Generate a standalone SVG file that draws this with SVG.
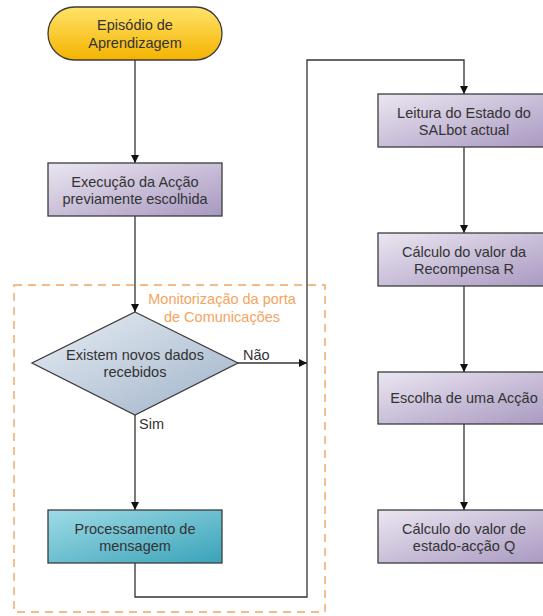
<svg xmlns="http://www.w3.org/2000/svg" width="543" height="616" viewBox="0 0 543 616">
<defs>
<linearGradient id="gPurple" x1="0" y1="0" x2="1" y2="1">
<stop offset="0" stop-color="#ebe6f1"/><stop offset="1" stop-color="#a898c0"/>
</linearGradient>
<linearGradient id="gYellow" x1="0" y1="0" x2="0" y2="1">
<stop offset="0" stop-color="#ffe36a"/><stop offset="1" stop-color="#f5b300"/>
</linearGradient>
<linearGradient id="gBlue" x1="0" y1="0" x2="1" y2="1">
<stop offset="0" stop-color="#e8eef5"/><stop offset="1" stop-color="#9fb2c8"/>
</linearGradient>
<linearGradient id="gTeal" x1="0" y1="0" x2="1" y2="1">
<stop offset="0" stop-color="#9fdbe6"/><stop offset="1" stop-color="#3aa3b9"/>
</linearGradient>
<marker id="arr" viewBox="0 0 10 10" refX="10" refY="5" markerWidth="8" markerHeight="8" orient="auto" markerUnits="userSpaceOnUse">
<path d="M0,0 L10,5 L0,10 z" fill="#111"/>
</marker>
</defs>
<style>
.box{stroke:#3c3c3c;stroke-width:1.3}
.t{font-family:"Liberation Sans",Arial,sans-serif;font-size:14.5px;fill:#333;text-anchor:middle}
.lbl{font-family:"Liberation Sans",Arial,sans-serif;font-size:14.5px;fill:#333}
.c{fill:none;stroke:#333;stroke-width:1.3}
.o{font-family:"Liberation Sans",Arial,sans-serif;font-size:14.5px;fill:#f4a460;text-anchor:middle}
</style>
<rect width="543" height="616" fill="#fff"/>
<g id="group-monitor">
<rect x="14" y="285" width="311" height="327" fill="none" stroke="#f4a460" stroke-width="1.4" stroke-dasharray="8,6"/>
<text class="o" x="222" y="304">Monitorização da porta</text>
<text class="o" x="222" y="322">de Comunicações</text>
</g>
<g id="connectors">
<line class="c" x1="135" y1="60" x2="135" y2="163" marker-end="url(#arr)"/>
<line class="c" x1="135" y1="216" x2="135" y2="312" marker-end="url(#arr)"/>
<line class="c" x1="238" y1="363" x2="307" y2="363" marker-end="url(#arr)"/>
<line class="c" x1="135" y1="415" x2="135" y2="510" marker-end="url(#arr)"/>
<polyline class="c" points="135,563 135,597 307,597 307,60 464,60 464,94" marker-end="url(#arr)"/>
<line class="c" x1="464" y1="147" x2="464" y2="233" marker-end="url(#arr)"/>
<line class="c" x1="464" y1="286" x2="464" y2="372" marker-end="url(#arr)"/>
<line class="c" x1="464" y1="424" x2="464" y2="510" marker-end="url(#arr)"/>
<text class="lbl" x="243" y="360">Não</text>
<text class="lbl" x="139" y="429">Sim</text>
</g>
<g id="start">
<rect class="box" x="48" y="7" width="174" height="53" rx="26.5" fill="url(#gYellow)"/>
<text class="t" x="135" y="30">Episódio de</text>
<text class="t" x="135" y="48">Aprendizagem</text>
</g>
<g id="exec">
<rect class="box" x="48" y="163" width="174" height="53" fill="url(#gPurple)"/>
<text class="t" x="135" y="187">Execução da Acção</text>
<text class="t" x="135" y="204">previamente escolhida</text>
</g>
<g id="decision">
<polygon class="box" points="135,312 238,363 135,415 32,363" fill="url(#gBlue)"/>
<text class="t" x="135" y="360">Existem novos dados</text>
<text class="t" x="135" y="377">recebidos</text>
</g>
<g id="proc">
<rect class="box" x="48" y="510" width="174" height="53" fill="url(#gTeal)"/>
<text class="t" x="135" y="534">Processamento de</text>
<text class="t" x="135" y="551">mensagem</text>
</g>
<g id="leitura">
<rect class="box" x="378" y="94" width="174" height="53" fill="url(#gPurple)"/>
<text class="t" x="464" y="118">Leitura do Estado do</text>
<text class="t" x="464" y="135">SALbot actual</text>
</g>
<g id="recompensa">
<rect class="box" x="378" y="233" width="174" height="53" fill="url(#gPurple)"/>
<text class="t" x="464" y="257">Cálculo do valor da</text>
<text class="t" x="464" y="274">Recompensa R</text>
</g>
<g id="escolha">
<rect class="box" x="378" y="372" width="174" height="52" fill="url(#gPurple)"/>
<text class="t" x="464" y="403">Escolha de uma Acção</text>
</g>
<g id="calculoQ">
<rect class="box" x="378" y="510" width="174" height="53" fill="url(#gPurple)"/>
<text class="t" x="464" y="534">Cálculo do valor de</text>
<text class="t" x="464" y="551">estado-acção Q</text>
</g>
</svg>
